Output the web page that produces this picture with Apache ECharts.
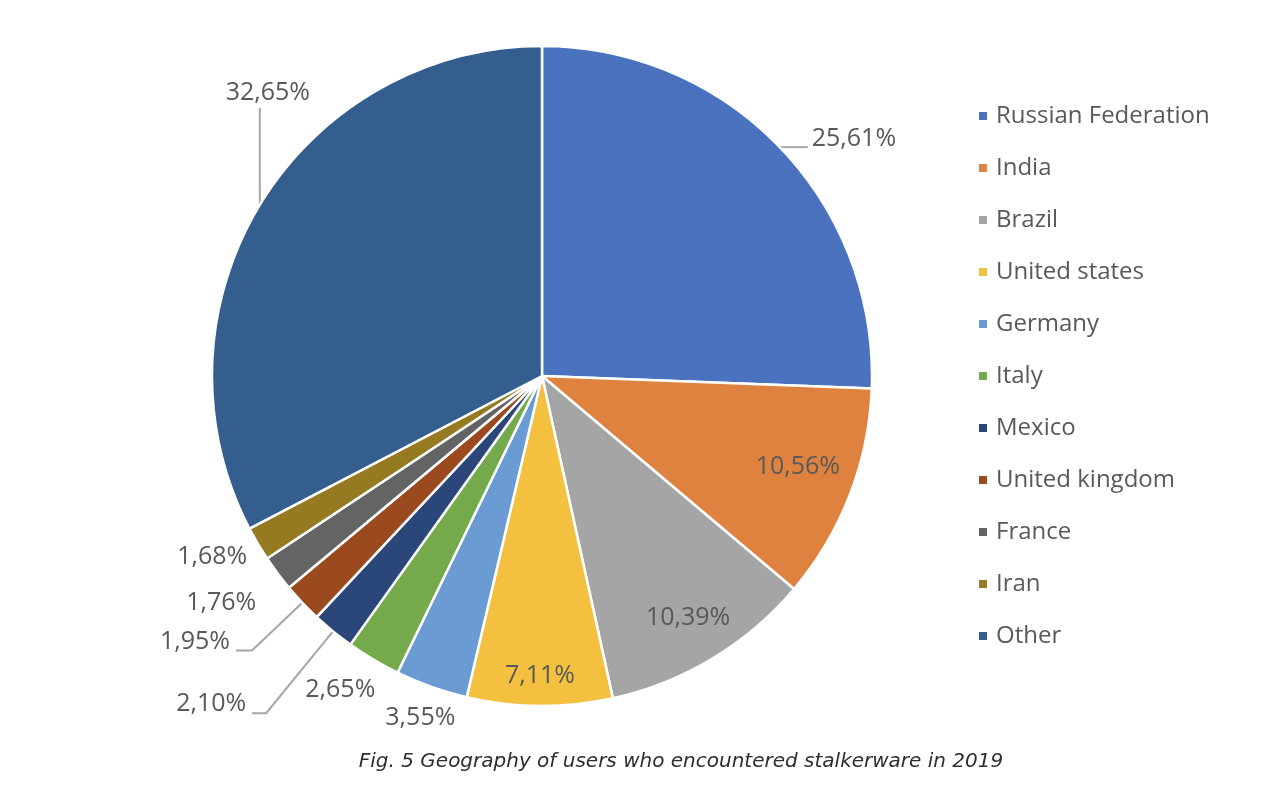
<!DOCTYPE html>
<html><head><meta charset="utf-8">
<script src="https://cdn.jsdelivr.net/npm/echarts@6/dist/echarts.min.js"></script>
<style>html,body{margin:0;background:#fff}#c{width:1280px;height:796px}</style>
</head><body><div id="c"></div>
<script>
// ---- data ----
const countries = ['Russian Federation','India','Brazil','United states','Germany','Italy','Mexico','United kingdom','France','Iran','Other'];
const shares = [25.61,10.56,10.39,7.11,3.55,2.65,2.10,1.95,1.76,1.68,32.65];
const caption = 'Fig. 5 Geography of users who encountered stalkerware in 2019';

// ---- style ----
const colors = ['#4a72bf','#e0823f','#a5a5a5','#f4c040','#6a9bd2','#74aa4c','#2b4679','#9a4a1e','#646464','#967a22','#335e8e'];
const CX = 542, CY = 376, R = 330;
// label placement style per slice (radial factor, angle nudge in degrees, leader line kind)
const labelPlace = [
  {type:'h', len:28},
  {type:'in', k:0.823, da:-1.6},
  {type:'in', k:0.857},
  {type:'in', k:0.91},
  {type:'out', k:1.10},
  {type:'out', k:1.13, da:2},
  {type:'elbow', k:1.32, len:14},
  {type:'elbow', k:1.21, len:16},
  {type:'out', k:1.19, da:1.5},
  {type:'out', k:1.14, da:1.8},
  {type:'v', len:97}
];
const FONT = '"Open Sans", "Noto Sans", sans-serif';

const total = shares.reduce((a,b)=>a+b,0);
const mid = []; let acc = 0;
shares.forEach(v => { mid.push((acc + v/2)/total*2*Math.PI); acc += v; });

function layout(p){
  const i = p.dataIndex, s = labelPlace[i], a = mid[i];
  const dx = Math.sin(a), dy = -Math.cos(a);
  const ex = CX + R*dx, ey = CY + R*dy;
  if (s.type === 'in' || s.type === 'out') {
    const b = a + (s.da || 0) * Math.PI / 180;
    return {x: CX + s.k*R*Math.sin(b), y: CY - s.k*R*Math.cos(b), align:'center', verticalAlign:'middle'};
  }
  if (s.type === 'h') {
    const x2 = ex + s.len;
    return {x: x2 + 4, y: ey - 8, align:'left', verticalAlign:'middle', labelLinePoints:[[ex,ey],[x2,ey],[x2,ey]]};
  }
  if (s.type === 'v') {
    const y2 = ey - s.len;
    return {x: ex + 8, y: y2 - 2, align:'center', verticalAlign:'bottom', labelLinePoints:[[ex,ey],[ex,y2],[ex,y2]]};
  }
  const x2 = CX + s.k*R*dx, y2 = CY + s.k*R*dy, x3 = x2 - s.len;
  return {x: x3 - 6, y: y2 - 9, align:'right', verticalAlign:'middle', labelLinePoints:[[ex,ey],[x2,y2],[x3,y2]]};
}

const data = countries.map((n, i) => {
  const hasLine = ['h','v','elbow'].includes(labelPlace[i].type);
  return {name: n, value: shares[i], itemStyle: {color: colors[i]}, labelLine: {show: hasLine}};
});

const chart = echarts.init(document.getElementById('c'), null, {renderer:'canvas'});
chart.setOption({
  backgroundColor: '#ffffff',
  animation: false,
  title: {
    text: caption, left: 676, textAlign: 'center', top: 747,
    textStyle: {fontStyle:'italic', fontWeight:'normal', fontSize:20, color:'#2e2e2e', fontFamily: '"DejaVu Sans", sans-serif'}
  },
  legend: {
    orient: 'vertical', left: 972, top: 99,
    icon: 'rect', itemWidth: 10, itemHeight: 10, itemGap: 28,
    selectedMode: false,
    textStyle: {fontSize: 24, color:'#595959', fontFamily: FONT, lineHeight: 24, padding:[0,0,0,3]},
    data: countries
  },
  series: [{
    type: 'pie',
    center: [CX, CY], radius: R,
    startAngle: 90, clockwise: true,
    avoidLabelOverlap: false,
    itemStyle: {borderColor:'#ffffff', borderWidth: 2.5},
    emphasis: {disabled: true},
    label: {
      show: true, position: 'outside', overflow: 'none',
      fontSize: 25, color: '#595959', fontFamily: FONT,
      formatter: p => shares[p.dataIndex].toFixed(2).replace('.', ',') + '%'
    },
    labelLine: {show: true, lineStyle: {color:'#a6a6a6', width: 2}},
    labelLayout: layout,
    data: data
  }]
});
</script>
</body></html>
